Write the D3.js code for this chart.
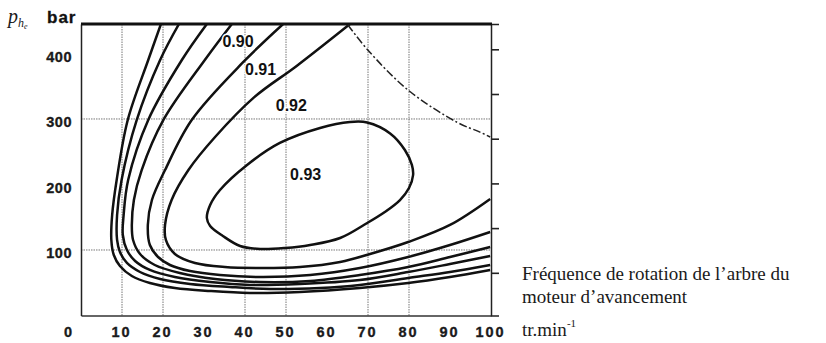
<!DOCTYPE html>
<html>
<head>
<meta charset="utf-8">
<script src="https://cdn.jsdelivr.net/npm/d3@7/dist/d3.min.js"></script>
<style>
  body { margin: 0; background: #fff; }
  svg { display: block; }
  .axis text { font-family: "Liberation Sans", Arial, sans-serif; font-weight: bold; font-size: 14.5px; fill: #1a1a1a; stroke: #1a1a1a; stroke-width: 0.35px; }
  .note { font-family: "Liberation Serif", "Times New Roman", serif; fill: #1a1a1a; }
</style>
</head>
<body>
<div id="chart"></div>
<script>
// axes (tr/min horizontally, bar vertically)
var xTicks = [10, 20, 30, 40, 50, 60, 70, 80, 90, 100];
var yTicks = [100, 200, 300, 400];
var xGrid = [10, 20, 40, 50, 70, 80];
var yGrid = [100, 300];
var rightTicks = [1, 2, 3, 4, 5, 6];

// iso-efficiency curves, outermost first, points as [tr/min, bar]
var iso1 = [[19.5,445],[16.4,390],[11.4,298.5],[8.7,206.9],[7.6,153.4],[7.4,115.3],[8.0,92.4],[9.5,75.6],[12.4,60.3],[16.8,49.6],[22.9,42],[31.5,37.4],[41.2,34.4],[53.4,35.9],[68,42],[79.8,49.6],[90,58.8],[99.8,69.5]];
var iso2 = [[23.9,445],[19.3,390],[13.6,298.5],[9.9,206.9],[8.8,153.4],[8.8,115.3],[9.5,96.9],[11.2,80.2],[14.4,66.4],[19.3,55.7],[26.6,48.1],[36.3,43.5],[46.1,40.5],[58.3,42],[68,46.6],[79.8,57.3],[90,66.4],[99.8,77.1]];
var iso3 = [[30.7,445],[24.6,390],[16.4,298.5],[11.5,206.9],[10.4,153.4],[10.2,122.9],[11.2,100],[13.2,83.2],[16.8,69.5],[22.9,58.8],[31.5,51.1],[41.2,46.6],[53.4,48.1],[68,54.2],[79.8,66.4],[90,78.6],[99.8,90.8]];
var iso4 = [[36.8,445],[30.2,390],[20.1,298.5],[14.8,222],[12.9,176.3],[12.4,138.2],[12.7,115.3],[14.4,93.9],[18,77.1],[24.1,64.9],[32.7,55.7],[43.7,51.1],[55.9,52.7],[68,61.8],[79.8,74],[90,89.3],[99.8,104.6]];
var iso5 = [[49.3,445],[39.6,387],[27,298.5],[20.5,222],[17.3,176.3],[16.3,138.2],[16.8,107.6],[18.8,89.3],[21.7,77.1],[26.6,67.9],[33.9,61.8],[43.7,58.8],[55.9,61.8],[68,72.5],[79.8,89.3],[90,107.6],[99.8,127.5]];
var iso6 = [[65.6,445],[52.6,381],[42.2,333],[32.7,272.5],[26.2,222.1],[22.1,176.3],[20.5,138.2],[20.7,115.3],[22.9,93.9],[27.8,80.2],[35.1,74],[43.7,72.5],[53.4,74],[63.2,81.7],[70.5,93.9],[79.8,112.2],[90,138.2],[99.8,177.9]];
// closed 0.93 loop
var iso93 = [[30.7,148.9],[31.5,168.7],[33.9,191.6],[40.5,229.8],[48.5,263.4],[58.3,286.3],[65.6,295.4],[69.8,294.7],[75.4,278],[79.0,252.7],[80.7,229.8],[81.0,214.5],[80.0,194.7],[77.8,176.3],[74.1,158],[69.8,141.2],[63.2,118.3],[55.9,107.6],[49.8,103],[43.7,101.5],[38.8,106.1],[34.6,121.4],[31.5,136.6]];
// dashed limit
var limitLine = [[65.1,443.5],[70,405],[79.8,344],[91.7,295],[97.3,280],[99.8,272.5]];

var isoNames = ["0.90", "0.91", "0.92", "0.93"];
var isoNameX = [38.3, 43.8, 51.3, 54.8];
var isoNameY = [418, 376, 321, 216];

var width = 826, height = 343;
var x = d3.scaleLinear().domain([0, 100]).range([81, 491]);
var y = d3.scaleLinear().domain([0, 445]).range([315.5, 24]);
// unlabelled scale on the right side
var yR = d3.scaleLinear().domain([0.045, 6.566]).range([315.5, 24]);

var svg = d3.select("#chart").append("svg")
  .attr("width", width)
  .attr("height", height);

svg.append("clipPath").attr("id", "plot")
  .append("rect")
  .attr("x", x(0)).attr("y", y(445))
  .attr("width", x(100) - x(0)).attr("height", y(0) - y(445));

// dotted grid
svg.append("g").selectAll("line")
  .data(xGrid).enter().append("line")
  .attr("x1", function (d) { return x(d); })
  .attr("x2", function (d) { return x(d); })
  .attr("y1", y(0)).attr("y2", y(445))
  .attr("stroke", "#777").attr("stroke-width", 1).attr("stroke-dasharray", "1.5,1");
svg.append("g").selectAll("line")
  .data(yGrid).enter().append("line")
  .attr("x1", x(0)).attr("x2", x(100))
  .attr("y1", function (d) { return y(d); })
  .attr("y2", function (d) { return y(d); })
  .attr("stroke", "#777").attr("stroke-width", 1).attr("stroke-dasharray", "1.5,1");

// axes
var gx = svg.append("g").attr("class", "axis")
  .attr("transform", "translate(0," + y(0) + ")")
  .call(d3.axisBottom(x).tickValues(xTicks).tickSize(0).tickPadding(11));
gx.selectAll("text").attr("letter-spacing", "2px").attr("dx", "-1");
gx.select(".domain").attr("stroke", "#333").attr("stroke-width", 1.5);

var gy = svg.append("g").attr("class", "axis")
  .attr("transform", "translate(" + x(0) + ",0)")
  .call(d3.axisLeft(y).tickValues(yTicks).tickSize(0).tickPadding(9));
gy.selectAll("text").attr("dy", "8").attr("letter-spacing", "0.5px");
gy.select(".domain").attr("stroke", "#222").attr("stroke-width", 1.5);

var gr = svg.append("g").attr("class", "axis")
  .attr("transform", "translate(" + x(100) + ",0)")
  .call(d3.axisRight(yR).tickValues(rightTicks).tickSize(8).tickFormat(""));
gr.selectAll("line").attr("stroke", "#222").attr("stroke-width", 1.6);
gr.select(".domain").attr("stroke", "#222").attr("stroke-width", 1.5);

// thick top edge
svg.append("line")
  .attr("x1", x(0)).attr("x2", x(100) + 1)
  .attr("y1", y(445)).attr("y2", y(445))
  .attr("stroke", "#111").attr("stroke-width", 3);

// origin
svg.append("g").attr("class", "axis")
  .append("text")
  .attr("x", x(0) - 9).attr("y", 336.7)
  .attr("text-anchor", "end")
  .text("0");

var line = d3.line()
  .x(function (d) { return x(d[0]); })
  .y(function (d) { return y(d[1]); })
  .curve(d3.curveCatmullRom.alpha(0.5));

var plot = svg.append("g").attr("clip-path", "url(#plot)");

plot.selectAll(".iso")
  .data([iso1, iso2, iso3, iso4, iso5, iso6])
  .enter().append("path")
  .attr("class", "iso")
  .attr("d", line)
  .attr("fill", "none")
  .attr("stroke", "#111")
  .attr("stroke-width", 2.5);

plot.append("path")
  .attr("d", line.curve(d3.curveCatmullRomClosed.alpha(0.5))(iso93))
  .attr("fill", "none")
  .attr("stroke", "#111")
  .attr("stroke-width", 2.5);

plot.append("path")
  .attr("d", line.curve(d3.curveCatmullRom.alpha(0.5))(limitLine))
  .attr("fill", "none")
  .attr("stroke", "#222")
  .attr("stroke-width", 1.5)
  .attr("stroke-dasharray", "8,2.5,2,2.5");

// curve labels
svg.append("g").selectAll("text")
  .data(isoNames).enter().append("text")
  .attr("x", function (d, i) { return x(isoNameX[i]); })
  .attr("y", function (d, i) { return y(isoNameY[i]); })
  .attr("dy", "0.35em")
  .attr("text-anchor", "middle")
  .style("font-family", "'Liberation Sans', Arial, sans-serif")
  .style("font-weight", "bold").style("font-size", "16px")
  .style("fill", "#111")
  .style("paint-order", "stroke").style("stroke", "#fff").style("stroke-width", "3px")
  .text(function (d) { return d; });

// axis titles
var pt = svg.append("text").attr("class", "note")
  .attr("x", 8).attr("y", 22.5);
pt.append("tspan").style("font-style", "italic").style("font-size", "20px").text("p");
pt.append("tspan").style("font-style", "italic").style("font-size", "12px").attr("dy", 4.5).text("h");
pt.append("tspan").style("font-style", "italic").style("font-size", "8px").attr("dy", 1.5).text("e");

svg.append("text")
  .attr("x", 47).attr("y", 22.7)
  .attr("letter-spacing", "1px")
  .style("font-family", "'Liberation Sans', Arial, sans-serif")
  .style("font-weight", "bold").style("font-size", "17px").style("fill", "#111")
  .style("stroke", "#111").style("stroke-width", "0.3px")
  .text("bar");

svg.append("text").attr("class", "note")
  .attr("x", 522).attr("y", 280).style("font-size", "19px")
  .text("Fréquence de rotation de l\u2019arbre du");
svg.append("text").attr("class", "note")
  .attr("x", 522).attr("y", 302.7).style("font-size", "19px")
  .text("moteur d\u2019avancement");
var unit = svg.append("text").attr("class", "note")
  .attr("x", 522).attr("y", 336).style("font-size", "19px");
unit.append("tspan").text("tr.min");
unit.append("tspan").attr("dy", -9).style("font-size", "11px").text("-1");
</script>
</body>
</html>
